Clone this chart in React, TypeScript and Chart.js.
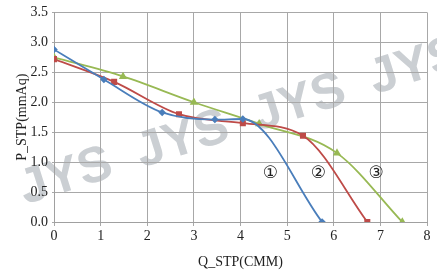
import React, { useEffect, useRef } from "react";
import { Chart, registerables } from "chart.js";
Chart.register(...registerables);

const q1 = [0, 1.07, 2.32, 3.45, 4.05, 5.75];
const p1 = [2.88, 2.38, 1.83, 1.71, 1.72, 0];
const q2 = [0, 1.29, 2.68, 4.05, 5.34, 6.72];
const p2 = [2.72, 2.34, 1.8, 1.65, 1.44, 0];
const q3 = [0, 1.48, 3.0, 4.4, 6.07, 7.47];
const p3 = [2.75, 2.43, 2.0, 1.64, 1.15, 0];
const curveLabels = ["①", "②", "③"];
const labelQ = [4.64, 5.67, 6.91];
const labelP = [0.81, 0.81, 0.81];
const watermark = "JYS  JYS  JYS  JYS";

const pts = (q: number[], p: number[]) => q.map((x, i) => ({ x, y: p[i] }));

export default function App() {
  const ref = useRef<HTMLCanvasElement>(null);
  useEffect(() => {
    document.body.style.margin = "0";
    const serif = "'Liberation Serif', serif";
    Chart.defaults.font.family = serif;
    const plugin = {
      id: "extras",
      beforeDraw(chart: any) {
        const ctx = chart.ctx;
        ctx.save();
        ctx.translate(241, 122);
        ctx.rotate(-17.5 * Math.PI / 180);
        ctx.font = "bold 50px 'Liberation Sans'";
        ctx.fillStyle = "#cbcfd3";
        ctx.textAlign = "center";
        ctx.textBaseline = "middle";
        ctx.fillText(watermark, 0, 0);
        ctx.restore();
      },
      afterDatasetsDraw(chart: any) {
        const ctx = chart.ctx;
        const xs = chart.scales.x;
        const ys = chart.scales.y;
        ctx.save();
        ctx.fillStyle = "#222";
        ctx.font = "17px 'Liberation Serif', 'DejaVu Sans', serif";
        ctx.textAlign = "center";
        ctx.textBaseline = "middle";
        curveLabels.forEach((t, i) => {
          ctx.fillText(t, xs.getPixelForValue(labelQ[i]), ys.getPixelForValue(labelP[i]));
        });
        ctx.restore();
      },
    };
    const ds = (label: string, q: number[], p: number[], color: string, style: any, r: number) => ({
      label,
      data: pts(q, p),
      showLine: true,
      borderColor: color,
      backgroundColor: color,
      borderWidth: 1.8,
      pointStyle: style,
      pointRadius: r,
      cubicInterpolationMode: "monotone",
    });
    const chart = new Chart(ref.current!, {
      type: "scatter",
      data: {
        datasets: [
          ds("1", q1, p1, "#4a7ebb", "rectRot", 2.5),
          ds("2", q2, p2, "#be4b48", "rect", 3),
          ds("3", q3, p3, "#98b954", "triangle", 3),
        ],
      },
      options: {
        animation: false,
        responsive: false,
        layout: { padding: { top: 10, right: 10, left: 8, bottom: 0 } },
        plugins: { legend: { display: false }, tooltip: { enabled: false } },
        scales: {
          x: {
            type: "linear",
            min: 0,
            max: 8,
            ticks: { stepSize: 1, color: "#222", font: { family: serif, size: 14 }, padding: 2 },
            grid: { color: "#a8a8a8", lineWidth: 1, tickLength: 4 },
            border: { color: "#a0a0a0" },
            title: { display: true, text: "Q_STP(CMM)", color: "#222", font: { family: serif, size: 14 }, padding: { top: 6 } },
            afterFit: (s: any) => { s.height = 53; },
          },
          y: {
            min: 0,
            max: 3.5,
            ticks: { stepSize: 0.5, color: "#222", font: { family: serif, size: 14 }, callback: (v: any) => Number(v).toFixed(1), padding: 4 },
            grid: { color: "#a8a8a8", lineWidth: 1, tickLength: 2 },
            border: { color: "#a0a0a0" },
            title: { display: true, text: "P_STP(mmAq)", color: "#222", font: { family: serif, size: 14 }, padding: { top: 6, bottom: 0 } },
            afterFit: (s: any) => { s.width = 46; },
          },
        },
      },
      plugins: [plugin],
    } as any);
    return () => chart.destroy();
  }, []);
  return <canvas ref={ref} width={437} height={275} style={{ display: "block" }} />;
}
